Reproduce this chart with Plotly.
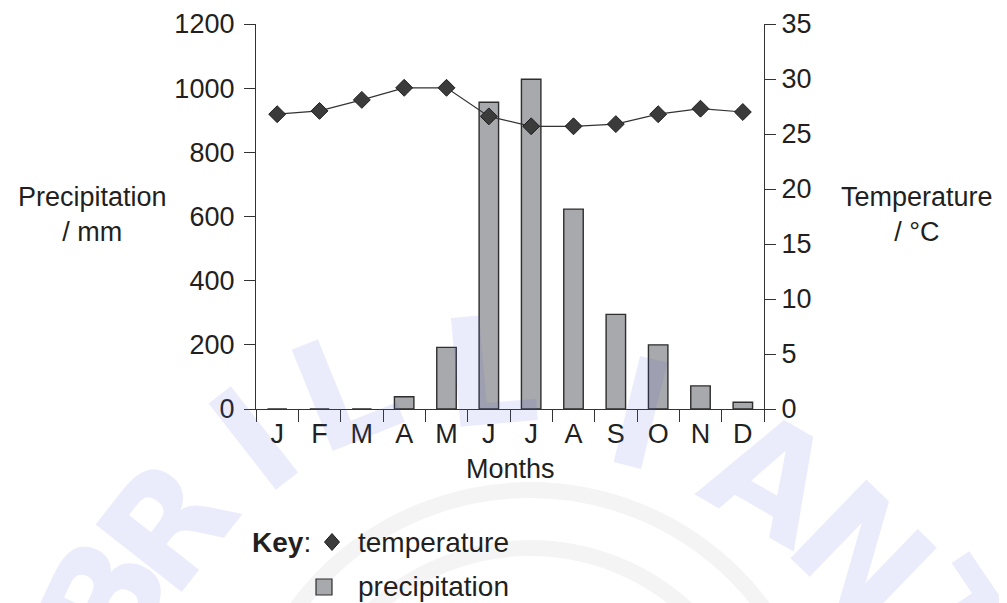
import plotly.graph_objects as go

# monthly climate data
months = ["J", "F", "M", "A", "M", "J", "J", "A", "S", "O", "N", "D"]
month_ids = list(range(12))
precip_mm = [0, 0, 0, 38, 192, 956, 1028, 623, 295, 200, 72, 21]
temp_c = [26.8, 27.1, 28.1, 29.2, 29.2, 26.6, 25.7, 25.7, 25.9, 26.8, 27.3, 27.0]

left_ticks = [0, 200, 400, 600, 800, 1000, 1200]
right_ticks = [0, 5, 10, 15, 20, 25, 30, 35]
month_edges = [i - 0.5 for i in range(13)]

W, H = 1007, 603
OFF = 8  # page body margin
PX0, PX1, PY0, PY1 = 256, 764, 24, 409  # plot area on the page
FONT = "Liberation Sans, Arial, sans-serif"
INK = "#231f20"


def px(x, y):
    # page pixel -> paper coords
    return (x - PX0) / (PX1 - PX0), (PY1 - y) / (PY1 - PY0)


fig = go.Figure()
fig.add_trace(go.Bar(x=month_ids, y=precip_mm, width=0.46,
                     marker=dict(color="#a8a9ac", line=dict(color="#2e2e2e", width=1.4)),
                     name="precipitation", yaxis="y"))
fig.add_trace(go.Scatter(x=month_ids, y=temp_c, mode="lines+markers",
                         line=dict(color="#333333", width=1.2),
                         marker=dict(symbol="diamond", size=13, color="#3b3b3b",
                                     line=dict(color="#1e1e1e", width=1)),
                         name="temperature", yaxis="y2"))

annotations = []
# watermark letters
wm = [("B", 105, 600, -65), ("R", 168, 525, -52), ("I", 255, 440, -38), ("L", 345, 390, -22),
      ("L", 490, 372, -5), ("I", 640, 415, 14), ("A", 770, 478, 30), ("N", 862, 555, 44),
      ("T", 950, 625, 56)]
for (ch, x, y, ang) in wm:
    xx, yy = px(x, y)
    annotations.append(dict(x=xx, y=yy, xref="paper", yref="paper", text="<b>" + ch + "</b>",
                            showarrow=False, textangle=ang, xanchor="center", yanchor="middle",
                            font=dict(size=150, color="rgba(88,100,220,0.12)", family="DejaVu Sans")))

# axis titles
for (x, y, txt) in [(92, 214, "Precipitation<br>/ mm"), (917, 214, "Temperature<br>/ °C"),
                    (510, 469, "Months")]:
    xx, yy = px(x, y)
    annotations.append(dict(x=xx, y=yy, xref="paper", yref="paper", text=txt,
                            xanchor="center", yanchor="middle",
                            showarrow=False, font=dict(size=27, color=INK, family=FONT),
                            align="center"))

# key
for (x, y, txt) in [(250, 542, "<b>Key</b>:"), (356, 542, "temperature"), (356, 586, "precipitation")]:
    xx, yy = px(x, y)
    annotations.append(dict(x=xx, y=yy, xref="paper", yref="paper", text=txt,
                            xanchor="left", yanchor="middle",
                            showarrow=False, font=dict(size=28, color=INK, family=FONT)))

shapes = []
# faint rings of the watermark logo
for r in (290, 232):
    x0, y0 = px(530 - r, 780 - r)
    x1, y1 = px(530 + r, 780 + r)
    shapes.append(dict(type="circle", xref="paper", yref="paper", x0=x0, y0=y0, x1=x1, y1=y1,
                       line=dict(color="rgba(0,0,0,0.045)", width=16), layer="below"))

# key symbols
cx, cy = 332, 542
pts = [px(cx, cy - 8.5), px(cx + 7.5, cy), px(cx, cy + 8.5), px(cx - 7.5, cy)]
path = "M " + " L ".join("%f,%f" % p for p in pts) + " Z"
shapes.append(dict(type="path", xref="paper", yref="paper", path=path,
                   fillcolor="#3b3b3b", line=dict(color="#1e1e1e", width=1)))
sx0, sy0 = px(316, 595)
sx1, sy1 = px(332, 579)
shapes.append(dict(type="rect", xref="paper", yref="paper", x0=sx0, y0=sy0, x1=sx1, y1=sy1,
                   fillcolor="#a8a9ac", line=dict(color="#2e2e2e", width=1.2)))

axis_common = dict(showgrid=False, zeroline=False, showline=True, linecolor="#333333",
                   linewidth=1.3, tickcolor="#333333", tickwidth=1.3, automargin=False,
                   tickfont=dict(size=27, color=INK, family=FONT))

fig.update_layout(
    width=W, height=H,
    margin=dict(l=PX0 - OFF, r=W - (PX1 - OFF), t=PY0 - OFF, b=H - (PY1 - OFF)),
    paper_bgcolor="white", plot_bgcolor="white",
    showlegend=False,
    xaxis=dict(axis_common, tickmode="array", tickvals=month_ids, ticktext=months,
               range=[-0.5, 11.5], ticks="", ticklabelstandoff=0,
               minor=dict(tickmode="array", tickvals=month_edges, ticks="outside",
                          ticklen=12, tickcolor="#333333", tickwidth=1.3)),
    yaxis=dict(axis_common, range=[0, 1200], tickvals=left_ticks, ticks="outside",
               ticklen=11, ticklabelstandoff=4),
    yaxis2=dict(axis_common, range=[0, 35], tickvals=right_ticks, ticks="outside", ticklen=11,
                overlaying="y", side="right"),
    annotations=annotations,
    shapes=shapes,
)

fig.write_html("out.html")
